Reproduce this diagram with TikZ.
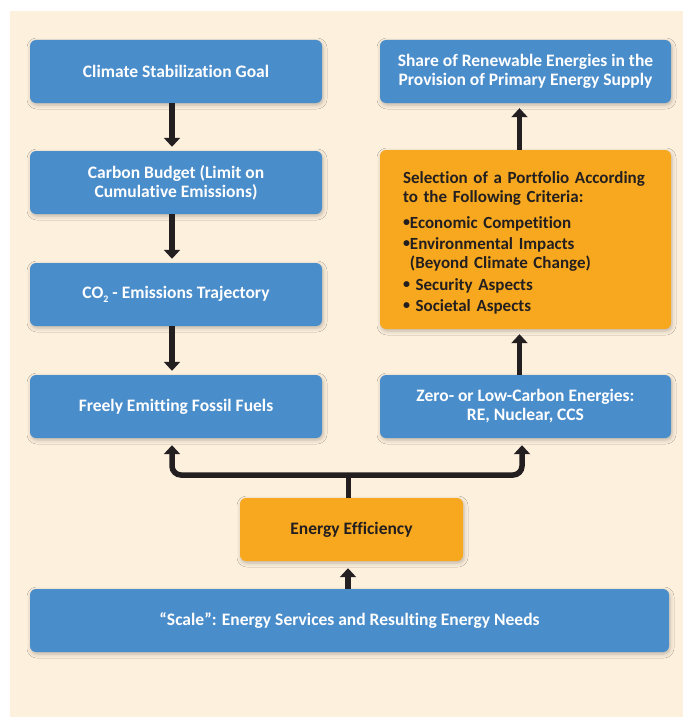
\documentclass[tikz,border=0pt]{standalone}
\usepackage{fontspec}
\setmainfont{Carlito}[Ligatures=NoCommon]
\usetikzlibrary{arrows.meta,shadows.blur}
\definecolor{cream}{HTML}{FDF0DD}
\definecolor{boxblue}{HTML}{4A8DCB}
\definecolor{boxorange}{HTML}{F7A81E}
\definecolor{ink}{HTML}{231F20}
\newcommand{\bul}{\raisebox{2pt}{\fontsize{14}{14}\selectfont\textbullet}}
\tikzset{
  base/.style={rounded corners=6pt, inner sep=0pt, align=center,
    font=\bfseries\fontsize{17.5}{19}\selectfont,
    blur shadow={shadow xshift=1pt, shadow yshift=-2pt, shadow opacity=25, shadow blur radius=4pt}},
  bluebox/.style={base, fill=boxblue, text=white},
  orangebox/.style={base, fill=boxorange, text=ink},
  arr/.style={draw=ink, line width=5.5pt, -{Triangle[width=16pt,length=9pt]}},
  link/.style={draw=ink, line width=5pt}
}
\begin{document}
\begin{tikzpicture}[x=1pt,y=-1pt]
\useasboundingbox (0,0) rectangle (683,717);
\fill[white] (0,0) rectangle (683,717);
\fill[cream] (10,11) rectangle (683,717);

\node[bluebox, minimum width=292pt, minimum height=63pt] (b1) at (176,71.5) {Climate Stabilization Goal};
\node[bluebox, minimum width=292pt, minimum height=63pt] (b2) at (176,182.5) {Carbon Budget (Limit on\\Cumulative Emissions)};
\node[bluebox, minimum width=292pt, minimum height=63pt] (b3) at (176,294.5) {CO{\fontsize{10}{10}\selectfont\raisebox{-4.5pt}{2}} - Emissions Trajectory};
\node[bluebox, minimum width=292pt, minimum height=63pt] (b4) at (176,406.5) {Freely Emitting Fossil Fuels};

\node[bluebox, minimum width=291pt, minimum height=63pt] (r1) at (525.5,71.5) {Share of Renewable Energies in the\\Provision of Primary Energy Supply};
\node[orangebox, minimum height=179pt, text width=245pt, inner xsep=23pt, align=left, font=\bfseries\fontsize{17}{20}\selectfont] (r2) at (525.5,239.5) {\rule{0pt}{17.7pt}Selection of a Portfolio According\\[-1pt]to the Following Criteria:\\[6pt]
\bul Economic Competition\\[1pt]
\bul Environmental Impacts\\[-1pt]
\phantom{\bul}(Beyond Climate Change)\\[2pt]
\bul\ Security Aspects\\[1pt]
\bul\ Societal Aspects};
\node[bluebox, minimum width=291pt, minimum height=63pt] (r3) at (525.5,406.5) {Zero- or Low-Carbon Energies:\\RE, Nuclear, CCS};

\node[orangebox, minimum width=223pt, minimum height=63pt] (ee) at (351.5,529.5) {Energy Efficiency};
\node[bluebox, minimum width=639pt, minimum height=63pt] (sc) at (349.5,620.5) {“Scale”: Energy Services and Resulting Energy Needs};

% left column, downward
\draw[arr, shorten >=4pt] ([xshift=-4pt]b1.south) -- ([xshift=-4pt]b2.north);
\draw[arr, shorten >=4pt] ([xshift=-4pt]b2.south) -- ([xshift=-4pt]b3.north);
\draw[arr, shorten >=4pt] ([xshift=-4pt]b3.south) -- ([xshift=-4pt]b4.north);
% right column, upward
\draw[arr, shorten >=5pt] ([xshift=-6pt]r2.north) -- ([xshift=-6pt]r1.south);
\draw[arr, shorten >=5pt] ([xshift=-6pt]r3.north) -- ([xshift=-6pt]r2.south);

% efficiency branches
\coordinate (j) at (348,475);
\draw[link] ([xshift=-3.5pt]ee.north) -- (j);
\draw[arr, rounded corners=9pt, shorten >=7pt] (j) -| ([xshift=-4pt]b4.south);
\draw[arr, rounded corners=9pt, shorten >=7pt] (j) -| ([xshift=-3.5pt]r3.south);
% scale to efficiency
\draw[arr, shorten >=7pt] ([xshift=-1.5pt]sc.north) -- ([xshift=-3.5pt]ee.south);
\end{tikzpicture}
\end{document}
